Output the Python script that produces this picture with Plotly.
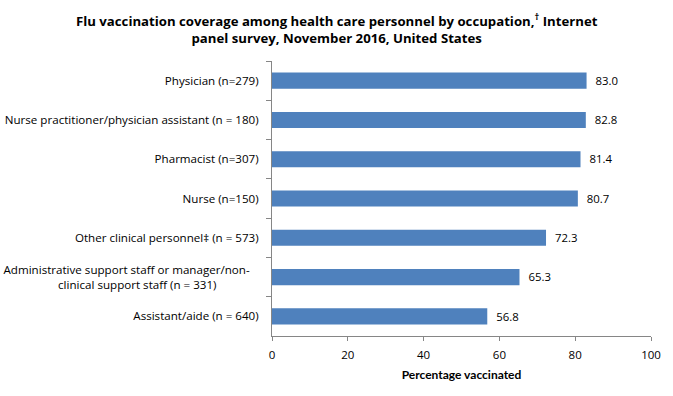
import plotly.graph_objects as go

NB = "\u00a0"
categories = [
    "Physician (n=279)",
    "Nurse practitioner/physician assistant (n = 180)",
    "Pharmacist (n=307)",
    "Nurse (n=150)",
    "Other clinical personnel‡ (n = 573)",
    "Administrative support staff or manager/non-" + NB * 3 + "<br>clinical support staff (n = 331)" + NB * 14,
    "Assistant/aide (n = 640)",
]
values = [83.0, 82.8, 81.4, 80.7, 72.3, 65.3, 56.8]
x_ticks = [0, 20, 40, 60, 80, 100]
title_text = ("<b>Flu vaccination coverage among health care personnel by occupation,<sup>†</sup> Internet"
              "<br>panel survey, November 2016, United States</b>")

FONT = "'Open Sans', sans-serif"
TFONT = "Lato, sans-serif"

W, H = 673, 396
L, R, T, B = 272, 22, 61, 60

fig = go.Figure(go.Bar(
    y=categories,
    x=values,
    orientation="h",
    marker=dict(color="#4F81BD", line=dict(width=0)),
    text=[NB * 2 + f"{v:.1f}" for v in values],
    textposition="outside",
    textfont=dict(size=12, color="#000000", family=FONT),
    cliponaxis=False,
))

fig.update_layout(
    width=W, height=H,
    margin=dict(l=L, r=R, t=T, b=B, autoexpand=False),
    paper_bgcolor="white", plot_bgcolor="white",
    bargap=0.59,
    showlegend=False,
    font=dict(family=FONT, size=12, color="#000000"),
    annotations=[dict(
        text=title_text,
        xref="paper", yref="paper",
        x=(W / 2 - L) / (W - L - R), xanchor="center",
        y=1 + (T - 8) / (H - T - B), yanchor="top",
        showarrow=False, align="center",
        font=dict(size=13.2, color="#000000", family=FONT),
    )],
)

fig.update_yaxes(
    autorange="reversed", automargin=False,
    showline=True, linecolor="#868686", linewidth=1,
    ticks="outside", tickson="boundaries", ticklen=5, tickcolor="#868686",
    ticklabelstandoff=10,
    showgrid=False,
    tickfont=dict(size=11.6, color="#000000", family=FONT),
)
fig.update_xaxes(
    range=[0, 100], automargin=False,
    tickvals=x_ticks,
    showline=True, linecolor="#868686", linewidth=1,
    ticks="outside", ticklen=4, tickcolor="#868686",
    ticklabelstandoff=4,
    showgrid=False, zeroline=False,
    tickfont=dict(size=11.5, color="#000000", family=FONT),
    title=dict(text="<b>Percentage vaccinated</b>", font=dict(size=12, color="#000000", family=TFONT), standoff=9),
)

fig.write_html("out.html", config={"displayModeBar": False},
               post_script="document.body.style.margin='0';document.body.style.padding='0';")
